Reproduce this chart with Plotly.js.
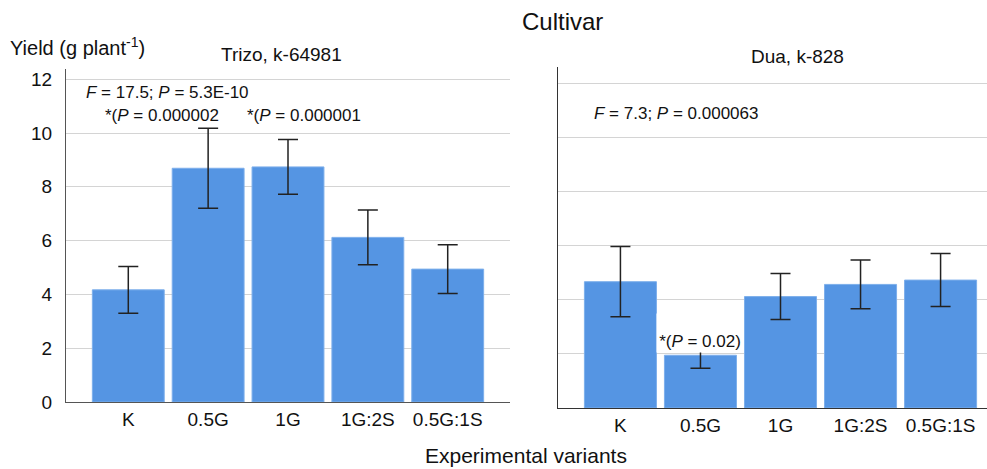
<!DOCTYPE html>
<html>
<head>
<meta charset="utf-8">
<script src="https://cdn.plot.ly/plotly-3.0.1.min.js"></script>
<style>html,body{margin:0;padding:0;background:#fff;}#chart{width:987px;height:469px;}</style>
</head>
<body>
<div id="chart"></div>
<script>
const categories = ["K", "0.5G", "1G", "1G:2S", "0.5G:1S"];
const trizoYield = [4.17, 8.69, 8.74, 6.12, 4.94];
const trizoErr = [0.87, 1.49, 1.02, 1.02, 0.91];
const duaYield = [4.67, 1.95, 4.12, 4.57, 4.73];
const duaErr = [1.3, 0.48, 0.85, 0.9, 0.98];
const yTicks = [0, 2, 4, 6, 8, 10, 12];

const barColor = "rgb(85,149,227)";
const font = "Liberation Sans, Arial, sans-serif";

function barTrace(y, err, xa, ya) {
  return {
    type: "bar", x: categories, y: y, xaxis: xa, yaxis: ya,
    marker: {color: barColor, line: {color: "rgb(125,175,235)", width: 1}},
    error_y: {type: "data", array: err, visible: true, color: "#222", thickness: 1.5, width: 10},
    showlegend: false, hoverinfo: "none"
  };
}

const data = [
  barTrace(trizoYield, trizoErr, "x", "y"),
  barTrace(duaYield, duaErr, "x2", "y2")
];

const W = 987, H = 469;
const px = v => v / W, py = v => (H - v) / H;

const xBase = {type: "category", showgrid: false, ticks: "", showline: true,
  linecolor: "#555", linewidth: 1, tickfont: {size: 19, color: "#111"}, fixedrange: true, zeroline: false};
const yBase = {showgrid: true, gridcolor: "#d4d4d4", gridwidth: 1, zeroline: false,
  showline: true, linecolor: "#555", linewidth: 1, ticks: "", tickvals: yTicks, fixedrange: true};

function paperText(text, x, y, size, xanchor) {
  return {text: text, xref: "paper", yref: "paper", x: px(x), y: py(y),
    xanchor: xanchor || "center", yanchor: "middle", showarrow: false, font: {size: size}};
}

const layout = {
  width: W, height: H,
  margin: {l: 0, r: 0, t: 0, b: 0},
  paper_bgcolor: "#fff", plot_bgcolor: "#fff",
  font: {family: font, color: "#111", size: 17},
  bargap: 0.1,
  showlegend: false,
  xaxis: Object.assign({}, xBase, {domain: [px(66), px(510)], range: [-0.78, 4.78], anchor: "y"}),
  yaxis: Object.assign({}, yBase, {domain: [py(402), py(69)], range: [0, 12.38], anchor: "x",
    tickfont: {size: 19, color: "#111"}, ticklabelstandoff: 9}),
  xaxis2: Object.assign({}, xBase, {domain: [px(558), 1], range: [-0.78, 4.58], anchor: "y2", linecolor: "#333"}),
  yaxis2: Object.assign({}, yBase, {domain: [py(408), py(66.7)], range: [0, 12.62], anchor: "x2",
    showticklabels: false, linecolor: "#333", linewidth: 1.5}),
  annotations: [
    paperText("Cultivar", 562, 22, 24),
    paperText("Yield (g plant<sup>-1</sup>)", 8, 47, 20, "left"),
    paperText("Trizo, k-64981", 281, 55, 19),
    paperText("Dua, k-828", 797, 57, 19),
    paperText("Experimental variants", 526, 455, 21),
    {text: "<i>F</i> = 17.5; <i>P</i> = 5.3E-10", xref: "x", yref: "y", x: -0.555, y: 11.49, xanchor: "left", yanchor: "middle", showarrow: false, font: {size: 17}},
    {text: "*(<i>P</i> = 0.000002", xref: "x", yref: "y", x: -0.317, y: 10.64, xanchor: "left", yanchor: "middle", showarrow: false, font: {size: 17}},
    {text: "*(<i>P</i> = 0.000001", xref: "x", yref: "y", x: 1.458, y: 10.64, xanchor: "left", yanchor: "middle", showarrow: false, font: {size: 17}},
    {text: "<i>F</i> = 7.3; <i>P</i> = 0.000063", xref: "x2", yref: "y2", x: -0.359, y: 10.9, xanchor: "left", yanchor: "middle", showarrow: false, font: {size: 17}},
    {text: "*(<i>P</i> = 0.02)", xref: "x2", yref: "y2", x: 1, y: 2.02, xanchor: "center", yanchor: "bottom", showarrow: false,
      font: {size: 17}, bgcolor: "#fff", width: 84, height: 36, valign: "bottom", borderpad: 1}
  ]
};

Plotly.newPlot("chart", data, layout, {displayModeBar: false, staticPlot: true});
</script>
</body>
</html>
